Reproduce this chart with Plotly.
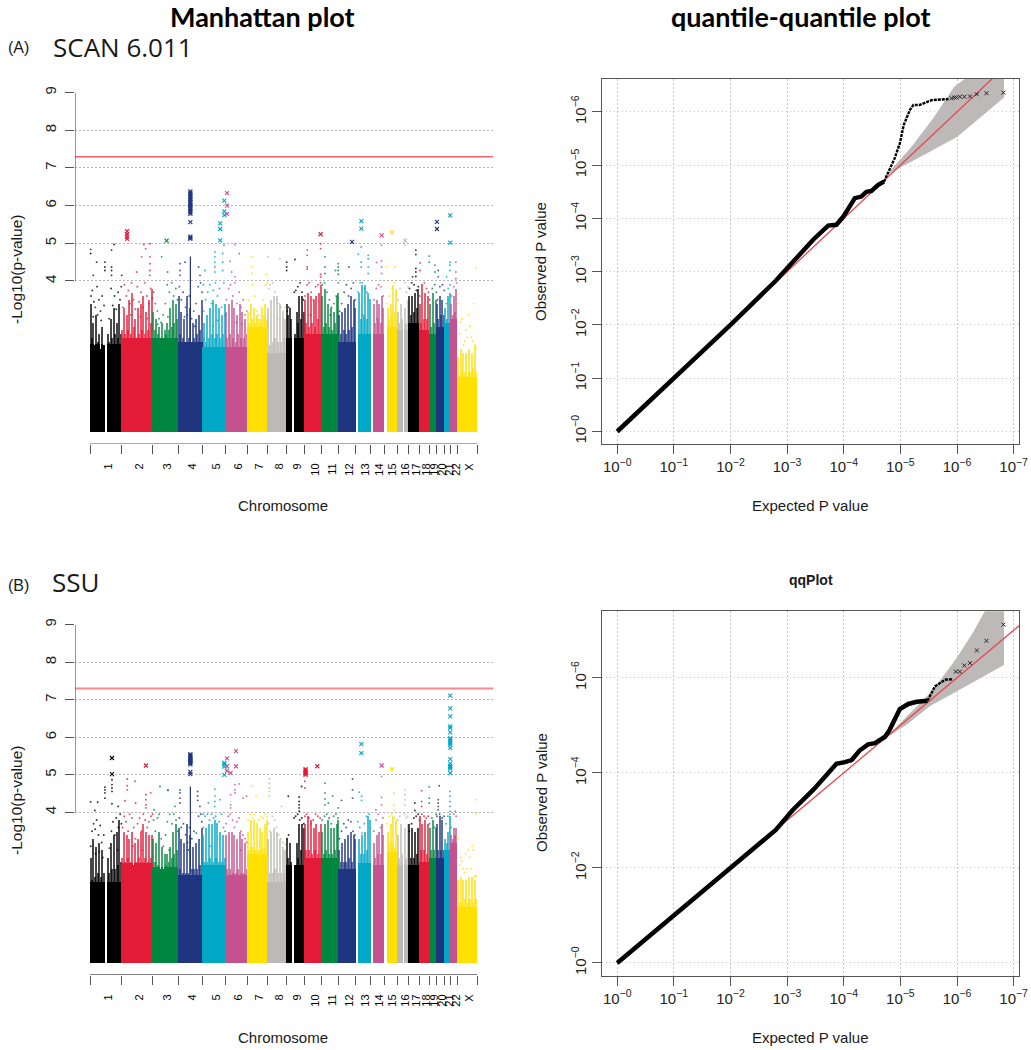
import numpy as np
import plotly.graph_objects as go

# figure size in px, everything else is placed relative to this
W, H = 1031, 1050

chrom_names = [str(i) for i in range(1, 23)] + ["X"]
chrom_mb = [249, 243, 198, 191, 181, 171, 159, 146, 141, 135, 135, 133, 115, 107, 102, 90, 81, 78, 59, 63, 48, 51, 155]
palette = ["#000000", "#e31b37", "#00873f", "#1f357f", "#00a8c6", "#c4528f", "#ffe000", "#bdb9b9"]

# Manhattan plot, panel A: top of the dense column of points in each chromosome window, 0 = no markers there
a_tops = [
    [3.4, 2.5, 2.9, 2.3, 3.1, 2.4, 2.6, 2.2, 2.8, 2.3, 0, 0, 2.6, 2.4, 3.0, 2.5, 3.3, 2.6, 2.9, 2.5, 3.4, 2.6],
    [2.7, 3.3, 2.6, 3.1, 2.7, 3.5, 2.6, 3.7, 2.8, 3.0, 2.5, 3.3, 2.6, 3.4, 2.7, 3.6, 2.6, 3.2, 2.7, 3.5, 2.9, 3.8],
    [3.2, 2.7, 3.0, 2.6, 2.8, 2.5, 2.9, 2.5, 2.7, 2.6, 2.9, 2.7, 3.3, 2.8, 3.5, 2.9, 3.4, 3.0],
    [3.6, 2.6, 3.2, 2.5, 3.0, 2.4, 3.6, 2.5, 3.3, 2.4, 2.9, 2.5, 3.0, 2.6, 3.1, 2.7, 3.5],
    [2.5, 2.9, 2.4, 3.1, 2.5, 3.3, 2.6, 3.5, 2.5, 3.4, 2.6, 3.3, 2.5, 3.1, 2.6, 3.4],
    [3.2, 2.5, 3.4, 2.6, 3.5, 2.5, 3.3, 2.4, 3.1, 2.6, 3.4, 2.5, 3.2, 2.5, 3.0, 2.6],
    [3.2, 2.9, 3.4, 3.0, 3.3, 2.9, 3.1, 3.0, 3.0, 2.9, 3.3, 3.1, 3.4, 3.0],
    [3.3, 2.3, 3.5, 2.4, 3.6, 2.5, 3.6, 2.4, 3.4, 2.4, 3.2, 2.5, 3.0],
    [3.4, 3.1, 3.3, 3.0, 0, 0, 2.6, 3.2, 2.9, 3.6, 3.0, 3.6, 3.2],
    [3.5, 2.9, 3.7, 2.8, 3.6, 2.9, 3.5, 2.8, 3.6, 3.0, 3.7, 3.9],
    [3.6, 2.8, 3.8, 2.9, 3.4, 2.8, 3.3, 2.7, 3.2, 2.9, 3.6, 3.7],
    [3.1, 2.6, 3.2, 2.7, 3.3, 2.6, 3.4, 2.7, 3.6, 2.8, 3.5, 3.3],
    [0, 0, 3.7, 3.0, 3.9, 3.1, 3.9, 3.0, 3.7, 3.5],
    [0, 0, 3.4, 2.9, 3.5, 3.0, 3.4, 2.9, 3.6, 3.3],
    [0, 0, 3.3, 3.0, 3.4, 3.1, 3.9, 3.2, 3.8],
    [3.2, 2.9, 3.4, 3.0, 0, 3.3, 2.9, 3.5],
    [3.6, 3.1, 3.6, 3.2, 3.7, 3.3, 3.8],
    [3.4, 2.9, 3.9, 3.0, 3.7, 3.0, 3.6],
    [3.4, 2.8, 3.7, 2.9, 3.5],
    [3.4, 3.0, 3.6, 3.1, 3.5, 3.1],
    [3.3, 3.0, 3.6, 3.7],
    [3.4, 3.1, 3.6, 3.2, 3.8],
    [2.0, 1.5, 2.2, 1.6, 2.1, 1.6, 2.1, 1.5, 2.2, 1.6, 2.1, 1.7, 2.3, 1.6],
]
# level up to which the points merge into a solid block
a_solid = [2.35, 2.5, 2.5, 2.4, 2.25, 2.25, 2.8, 2.1, 2.5, 2.6, 2.6, 2.4, 2.6, 2.6, 2.8, 2.7, 2.9, 2.7, 2.6, 2.8, 2.9, 3.0, 1.45]

# panel A, the points that stick out above the rest
a_dot_pos = [5, 5, 26, 52, 117, 117, 117, 169, 169, 169, 169, 188, 248, 365, 404, 422, 436, 469, 469, 469, 469, 469,
             561, 608, 704, 704, 704, 744, 851, 861, 900, 978, 978, 978, 978, 978, 1039, 1039, 1039, 1049,
             1096, 1109, 1135, 1135, 1169, 1271, 1271, 1271, 1383, 1396, 1487, 1540, 1540, 1540, 1605,
             1701, 1701, 1701, 1701, 1806, 1806, 1806, 1806, 1840, 1840, 1840, 1923, 1944, 1944, 1944, 1944,
             2028, 2101, 2124, 2124, 2124, 2179, 2179, 2179, 2179, 2244, 2283, 2283, 2283, 2283, 2323, 2388, 2466,
             2526, 2552, 2552, 2552, 2552, 2552, 2584, 2584, 2657, 2657, 2701, 2701, 2727, 2727,
             2792, 2819, 2819, 2819, 2865, 2865, 2865, 3022,
             # below the 4 line
             8, 18, 30, 42, 55, 70, 82, 95, 110, 150, 165, 178, 192, 205, 220, 235, 245, 60, 25, 88,
             258, 270, 285, 300, 312, 325, 340, 355, 370, 385, 400, 415, 430, 445, 460, 475, 488, 320, 395, 450,
             498, 512, 528, 540, 556, 572, 590, 605, 622, 640, 655, 672, 685, 610, 530,
             888, 700, 715, 730, 748, 762, 778, 796, 812, 830, 848, 866, 878, 740, 820,
             890, 905, 922, 938, 950, 966, 982, 998, 1014, 1030, 1048, 1056, 1000, 960,
             1068, 1085, 1100, 1118, 1135, 1150, 1168, 1184, 1200, 1215, 1228, 1145, 1190,
             1240, 1258, 1275, 1290, 1306, 1322, 1340, 1358, 1375, 1388, 1300,
             1398, 1412, 1430, 1448, 1462, 1480, 1496, 1512, 1530, 1470,
             1545, 1556, 1600, 1612, 1628, 1645, 1660, 1672,
             1685, 1700, 1716, 1732, 1750, 1768, 1785, 1805, 1725,
             1820, 1838, 1856, 1874, 1892, 1910, 1928, 1944, 1880,
             1955, 1972, 1990, 2008, 2025, 2045, 2062, 2076,
             2100, 2115, 2132, 2150, 2168, 2188, 2130,
             2225, 2242, 2260, 2278, 2296, 2250,
             2325, 2345, 2365, 2385, 2400,
             2412, 2428, 2466, 2478, 2490,
             2502, 2520, 2538, 2556, 2572,
             2582, 2600, 2618, 2636, 2650,
             2660, 2680, 2700, 2712,
             2720, 2740, 2760, 2774,
             2790, 2805, 2820,
             2830, 2850, 2870,
             2885, 2905, 2925, 2945, 2965, 2985, 3005, 3025, 2895, 2935, 2975, 3015, 2915, 2955, 2995]
a_dot_val = [4.84, 4.73, 4.15, 4.5, 4.5, 4.37, 4.28, 4.82, 4.37, 4.28, 4.15, 4.97, 4.15, 4.24, 4.64, 4.97, 4.86, 4.99, 4.64, 4.46, 4.28, 4.15,
             4.64, 4.24, 4.46, 4.28, 4.15, 4.5, 4.37, 4.15, 4.28, 4.77, 4.64, 4.5, 4.37, 4.24, 4.73, 4.5, 4.28, 4.95,
             4.52, 4.24, 4.97, 4.11, 4.73, 4.64, 4.37, 4.2, 4.18, 4.64, 4.59, 4.5, 4.37, 4.28, 4.57,
             4.82, 4.68, 4.37, 4.31, 4.99, 4.86, 4.18, 4.11, 4.64, 4.37, 4.2, 4.28, 4.46, 4.37, 4.28, 4.18,
             4.37, 4.71, 4.9, 4.5, 4.37, 4.68, 4.59, 4.37, 4.2, 4.49, 4.95, 4.53, 4.37, 4.2, 4.37, 4.37, 4.95,
             4.11, 4.82, 4.7, 4.33, 4.24, 4.12, 4.48, 4.28, 4.66, 4.5, 4.42, 4.24, 4.28, 4.11,
             4.11, 4.5, 4.42, 4.28, 4.5, 4.24, 4.06, 4.35,
             3.6, 3.75, 3.45, 3.3, 3.85, 3.5, 3.2, 3.6, 3.35, 3.0, 3.8, 3.35, 3.6, 3.25, 3.7, 3.5, 3.85, 3.1, 3.05, 2.95,
             3.3, 3.9, 3.6, 3.75, 3.4, 3.95, 3.5, 3.25, 3.85, 3.45, 3.7, 3.3, 3.95, 3.6, 3.4, 3.8, 3.55, 3.1, 3.05, 3.0,
             3.7, 3.4, 3.2, 3.0, 2.9, 3.1, 3.4, 3.9, 3.7, 3.95, 3.6, 3.8, 3.5, 3.05, 2.85,
             3.9, 3.85, 3.5, 3.7, 3.3, 3.1, 3.6, 3.0, 3.2, 3.4, 3.85, 3.95, 3.7, 3.05, 2.8,
             3.2, 3.5, 3.7, 3.9, 3.4, 3.75, 3.95, 3.6, 3.8, 3.3, 3.95, 3.1, 2.95, 2.8,
             3.5, 3.8, 3.9, 3.6, 3.95, 3.4, 3.7, 3.3, 3.5, 3.1, 3.2, 2.9, 2.85,
             3.5, 3.3, 3.9, 3.6, 3.2, 3.1, 3.3, 3.5, 3.9, 3.95, 3.0,
             3.8, 3.9, 3.95, 3.7, 3.5, 3.4, 3.3, 3.2, 3.3, 3.0,
             3.2, 3.3, 3.7, 3.75, 3.85, 3.95, 3.7, 3.5,
             3.6, 3.9, 3.95, 3.7, 3.5, 3.85, 3.9, 3.95, 3.1,
             3.9, 3.95, 3.7, 3.5, 3.3, 3.4, 3.6, 3.95, 3.1,
             3.2, 3.4, 3.7, 3.9, 3.6, 3.8, 3.95, 3.5,
             3.7, 3.95, 3.95, 3.8, 3.7, 3.5, 3.1,
             3.5, 3.8, 3.9, 3.85, 3.6, 3.0,
             3.4, 3.6, 3.8, 3.95, 3.7,
             3.5, 3.8, 3.95, 3.7, 3.85,
             3.8, 3.95, 3.9, 3.75, 3.85,
             3.6, 3.9, 3.95, 3.8, 3.7,
             3.5, 3.8, 3.9, 3.7,
             3.5, 3.85, 3.9, 3.75,
             3.4, 3.8, 3.9,
             3.6, 3.85, 3.95,
             3.4, 2.9, 2.3, 2.7, 3.1, 2.5, 3.4, 2.2, 2.6, 2.4, 2.8, 2.3, 3.0, 2.5, 2.4]

# panel A, hits above 5 drawn as crosses
a_hit_pos = [290, 290, 290, 290, 600,
             786, 786, 786, 786, 786, 786, 786, 786, 786, 786, 786, 786, 786, 786, 786, 786, 786, 786, 786, 786,
             1020, 1020, 1020, 1052, 1052, 1052, 1073, 1073, 1073,
             1806, 2052, 2125, 2125, 2284, 2365, 2467, 2717, 2717, 2821, 2821]
a_hit_val = [5.32, 5.24, 5.18, 5.12, 5.07,
             6.38, 6.34, 6.30, 6.26, 6.22, 6.18, 6.14, 6.10, 6.06, 6.02, 5.98, 5.94, 5.9, 5.86, 5.82, 5.78, 5.56, 5.18, 5.15, 5.12,
             5.53, 5.38, 5.08, 6.13, 5.85, 5.75, 6.33, 6.0, 5.78,
             5.24, 5.04, 5.59, 5.39, 5.21, 5.29, 5.07, 5.57, 5.38, 5.74, 5.02]
a_peak = [2.4, 4.65]

# Manhattan plot, panel B
b_tops = [
    [2.8, 2.2, 3.3, 2.3, 3.1, 2.4, 3.2, 2.3, 3.0, 2.4, 0, 0, 2.8, 2.4, 3.2, 2.5, 3.4, 2.5, 3.5, 2.6, 3.8, 2.7],
    [2.8, 3.5, 2.7, 3.4, 2.8, 3.3, 2.7, 3.5, 2.6, 3.2, 2.7, 3.3, 2.8, 3.5, 2.7, 3.7, 2.8, 3.5, 2.7, 3.4, 2.8, 3.4],
    [3.3, 2.7, 3.2, 2.6, 3.5, 2.5, 3.1, 2.5, 2.9, 2.6, 2.9, 2.7, 3.1, 2.8, 3.5, 2.9, 3.7, 3.0],
    [3.6, 2.5, 3.3, 2.4, 3.2, 2.4, 3.7, 2.4, 3.4, 2.5, 3.1, 2.5, 3.2, 2.5, 3.3, 2.6, 3.6],
    [3.4, 2.7, 3.6, 2.7, 3.7, 2.8, 3.7, 2.7, 3.8, 2.8, 3.7, 2.7, 3.5, 2.7, 3.4, 2.8],
    [3.4, 2.5, 3.5, 2.5, 3.5, 2.4, 3.4, 2.4, 3.3, 2.5, 3.5, 2.4, 3.3, 2.4, 3.2, 2.5],
    [3.5, 3.0, 3.8, 3.1, 3.8, 3.0, 3.7, 3.0, 3.6, 3.0, 3.5, 3.1, 3.7, 3.8],
    [3.3, 2.4, 3.5, 2.4, 3.6, 2.5, 3.5, 2.4, 3.3, 2.4, 3.1, 2.4, 3.0],
    [3.3, 2.8, 3.2, 2.7, 0, 0, 2.6, 3.2, 2.8, 3.7, 3.0, 3.7, 3.6],
    [3.7, 3.0, 3.9, 3.0, 3.8, 2.9, 3.6, 3.0, 3.7, 2.9, 3.5, 3.7],
    [3.5, 2.9, 3.7, 3.0, 3.8, 2.9, 3.6, 2.9, 3.6, 3.0, 3.7, 3.8],
    [3.0, 2.7, 3.2, 2.7, 3.3, 2.7, 3.4, 2.8, 3.5, 2.7, 3.4, 3.3],
    [0, 0, 3.3, 2.9, 3.4, 2.9, 3.5, 3.0, 3.9, 3.8],
    [0, 0, 3.2, 2.8, 3.4, 2.9, 3.5, 2.9, 3.7, 3.4],
    [0, 0, 3.5, 3.2, 3.7, 3.2, 3.9, 3.1, 3.8],
    [3.4, 2.8, 3.7, 2.9, 0, 3.6, 2.8, 3.7],
    [3.7, 2.8, 3.6, 2.8, 3.5, 2.9, 3.6],
    [3.9, 3.0, 3.7, 3.0, 3.8, 2.9, 3.7],
    [3.6, 3.0, 3.8, 3.0, 3.6],
    [3.7, 3.0, 3.9, 3.0, 3.8, 3.0],
    [3.3, 3.2, 3.5, 3.9],
    [3.4, 3.3, 3.6, 3.4, 3.6],
    [2.2, 1.6, 2.3, 1.6, 2.2, 1.7, 2.2, 1.6, 2.3, 1.7, 2.3, 1.6, 2.2, 1.7],
]
b_solid = [2.15, 2.65, 2.55, 2.35, 2.6, 2.35, 2.9, 2.15, 2.6, 2.8, 2.8, 2.5, 2.65, 2.6, 2.95, 2.6, 2.6, 2.7, 2.8, 2.8, 3.0, 3.2, 1.5]
b_dot_pos = [5, 60, 38, 117, 117, 117, 117, 172, 172, 172, 172, 172, 221, 292, 292, 292, 352, 357, 274,
             438, 438, 438, 438, 475, 548, 608, 612, 665, 501,
             704, 704, 704, 704, 843, 843, 843, 861,
             978, 978, 978, 978, 927, 1018, 1101, 1101, 1101, 1135, 1135, 1135, 1169, 1200, 1226,
             1266, 1300, 1404, 1404, 1404, 1404, 1404, 1500, 1553,
             1638, 1638, 1638, 1638, 1638, 1657, 1683, 1683,
             1840, 1840, 1840, 1840, 1900, 1866, 1944, 2056, 2056, 2056, 1970,
             2108, 2127, 2127, 2239, 2283, 2283, 2283, 2380, 2380, 2380,
             2466, 2466, 2466, 2466, 2544, 2544, 2597, 2597, 2597, 2657, 2657, 2657, 2735, 2727, 2727, 2727, 2727,
             2819, 2819, 2819, 2819, 2819, 2860, 3022,
             # below the 4 line
             6, 16, 28, 40, 52, 66, 80, 92, 108, 152, 168, 180, 194, 206, 222, 236, 246, 44, 72, 100, 215,
             255, 268, 282, 298, 310, 328, 342, 356, 372, 388, 402, 418, 432, 448, 462, 478, 490, 335, 410,
             498, 512, 528, 542, 558, 574, 592, 606, 624, 642, 656, 674, 686, 620,
             886, 700, 714, 732, 750, 764, 780, 798, 814, 832, 850, 868, 876, 770,
             888, 902, 920, 936, 952, 968, 984, 996, 1012, 1030, 1046, 1058, 940,
             1066, 1082, 1098, 1116, 1132, 1150, 1166, 1182, 1198, 1214, 1226, 1180,
             1238, 1254, 1272, 1288, 1304, 1320, 1338, 1356, 1372, 1386,
             1396, 1410, 1428, 1446, 1460, 1478, 1494, 1510, 1528,
             1543, 1555, 1598, 1610, 1626, 1643, 1658, 1674,
             1683, 1696, 1714, 1730, 1748, 1766, 1784, 1802,
             1818, 1836, 1854, 1872, 1890, 1908, 1926, 1942,
             1953, 1970, 1988, 2006, 2023, 2043, 2060, 2074,
             2098, 2113, 2130, 2148, 2166, 2186,
             2223, 2240, 2258, 2276, 2294,
             2323, 2343, 2363, 2383, 2398,
             2410, 2426, 2464, 2476, 2488,
             2500, 2518, 2536, 2554, 2570,
             2580, 2598, 2616, 2634, 2648,
             2658, 2678, 2698, 2710,
             2718, 2738, 2758, 2772,
             2788, 2803, 2818,
             2828, 2848, 2868,
             2883, 2903, 2923, 2943, 2963, 2983, 3003, 3023, 2893, 2933, 2973, 3013, 2913, 2953, 2993, 3020]
b_dot_val = [4.28, 4.27, 4.05, 4.67, 4.6, 4.52, 4.38, 4.87, 4.74, 4.65, 4.56, 4.23, 4.16, 4.89, 4.71, 4.6, 4.83, 4.25, 4.31,
             4.47, 4.34, 4.2, 4.12, 4.52, 4.69, 4.6, 4.59, 4.16, 4.07,
             4.6, 4.52, 4.38, 4.25, 4.56, 4.44, 4.32, 4.16,
             4.62, 4.44, 4.29, 4.16, 4.25, 4.34, 4.47, 4.2, 4.12, 4.74, 4.6, 4.52, 4.76, 4.38, 4.43,
             4.71, 4.43, 4.89, 4.78, 4.65, 4.56, 4.44, 4.16, 4.43,
             4.41, 4.29, 4.2, 4.12, 4.03, 4.69, 4.83, 4.65,
             4.78, 4.52, 4.36, 4.2, 4.44, 4.25, 4.12, 4.89, 4.6, 4.38, 4.32,
             4.54, 4.43, 4.32, 4.07, 4.96, 4.4, 4.2, 4.52, 4.2, 4.07,
             4.6, 4.47, 4.34, 4.2, 4.25, 4.05, 4.58, 4.29, 4.16, 4.68, 4.38, 4.25, 4.71, 4.34, 4.25, 4.16, 4.07,
             4.56, 4.43, 4.29, 4.16, 4.03, 4.03, 4.34,
             3.1, 3.5, 3.7, 3.55, 3.8, 3.4, 3.65, 3.2, 3.4, 3.05, 3.5, 3.75, 3.4, 3.85, 3.6, 3.95, 3.7, 2.9, 2.95, 2.8, 3.0,
             3.6, 3.9, 3.75, 3.5, 3.95, 3.85, 3.6, 3.3, 3.7, 3.85, 3.5, 3.95, 3.8, 3.6, 3.75, 3.9, 3.95, 3.1, 3.0,
             3.8, 3.5, 3.85, 3.95, 3.3, 3.1, 3.4, 3.75, 3.95, 3.7, 3.95, 3.8, 3.5, 3.0,
             3.95, 3.85, 3.6, 3.7, 3.4, 3.2, 3.6, 3.3, 3.5, 3.45, 3.9, 3.95, 3.75, 3.0,
             3.6, 3.9, 3.95, 3.8, 3.95, 3.85, 3.9, 3.7, 3.75, 3.95, 3.6, 3.5, 3.1,
             3.7, 3.9, 3.95, 3.8, 3.6, 3.75, 3.85, 3.5, 3.4, 3.3, 3.2, 3.0,
             3.8, 3.95, 3.85, 3.95, 3.7, 3.8, 3.9, 3.85, 3.95, 3.9,
             3.7, 3.5, 3.9, 3.8, 3.6, 3.4, 3.3, 3.2, 3.15,
             3.3, 3.4, 3.85, 3.9, 3.95, 3.8, 3.85, 3.7,
             3.9, 3.95, 3.85, 3.7, 3.8, 3.95, 3.9, 3.85,
             3.8, 3.9, 3.95, 3.85, 3.7, 3.9, 3.95, 3.85,
             3.3, 3.5, 3.7, 3.6, 3.8, 3.75, 3.5, 3.4,
             3.75, 3.6, 3.45, 3.7, 3.9, 3.95,
             3.5, 3.8, 3.95, 3.6, 3.85,
             3.7, 3.9, 3.95, 3.85, 3.7,
             3.8, 3.9, 3.95, 3.85, 3.9,
             3.5, 3.7, 3.85, 3.9, 3.95,
             3.8, 3.95, 3.9, 3.85, 3.9,
             3.7, 3.85, 3.6, 3.95,
             3.9, 3.95, 3.85, 3.9,
             3.7, 3.9, 3.95,
             3.6, 3.95, 3.9,
             3.3, 2.8, 2.5, 2.9, 3.0, 2.5, 3.0, 2.3, 2.6, 2.4, 2.8, 2.3, 2.7, 2.5, 3.1, 3.95]
b_hit_pos = [172, 172, 438,
             786, 786, 786, 786, 786, 786, 786, 786, 786, 786, 786, 786,
             1052, 1052, 1052, 1052, 1073, 1073, 1073, 1101, 1143, 1143,
             1688, 1688, 1688, 1688, 1688, 1688, 1780, 2125, 2125, 2284, 2365,
             2821, 2821, 2821, 2821, 2821, 2821, 2821, 2821, 2821, 2821, 2821, 2821, 2821, 2821, 2821, 2821, 2821, 2821]
b_hit_val = [5.45, 5.02, 5.25,
             5.55, 5.52, 5.49, 5.46, 5.43, 5.40, 5.37, 5.34, 5.31, 5.28, 5.08, 5.02,
             5.32, 5.28, 5.22, 5.0, 5.44, 5.23, 5.11, 5.05, 5.63, 5.23,
             5.15, 5.12, 5.09, 5.06, 5.03, 5.0, 5.23, 5.82, 5.58, 5.25, 5.15,
             7.11, 6.77, 6.56, 6.29, 6.25, 6.13, 5.98, 5.94, 5.89, 5.85, 5.8, 5.72, 5.42, 5.3, 5.24, 5.21, 5.17, 5.05]
b_peak = [2.4, 4.69]

genome_line = 7.3

# QQ plots, all in -log10(p): thick ribbon, thinner part, single crosses, confidence band
qq_ref = [0.0, 8.0]
a_thick_exp = [0, 1, 2, 2.8, 3.14, 3.46, 3.725, 3.87, 3.99, 4.196, 4.31, 4.40, 4.49, 4.61, 4.71]
a_thick_obs = [0, 1, 2, 2.83, 3.22, 3.60, 3.865, 3.88, 4.03, 4.38, 4.41, 4.50, 4.515, 4.63, 4.69]
a_thin_exp = [4.71, 4.81, 4.90, 4.99, 5.02, 5.06, 5.17, 5.23, 5.34, 5.55, 5.85]
a_thin_obs = [4.69, 4.94, 5.13, 5.41, 5.55, 5.755, 6.04, 6.13, 6.13, 6.22, 6.24]
a_cross_exp = [5.904, 5.95, 5.99, 6.05, 6.13, 6.23, 6.35, 6.52, 6.82]
a_cross_obs = [6.255, 6.27, 6.27, 6.285, 6.285, 6.29, 6.33, 6.35, 6.36]
a_band_exp = [4.76, 5.2, 5.58, 5.95, 6.14, 6.3, 6.83, 6.83, 6.0, 5.57, 5.2, 4.76]
a_band_obs = [4.82, 5.35, 5.88, 6.47, 6.62, 6.9, 6.9, 6.27, 5.53, 5.29, 5.07, 4.82]

b_thick_exp = [0, 1, 2, 2.8, 3.1, 3.46, 3.70, 3.87, 4.02, 4.14, 4.28, 4.43, 4.55, 4.73, 4.81, 4.90, 4.99, 5.14, 5.29, 5.48]
b_thick_obs = [0, 1, 2, 2.8, 3.22, 3.64, 3.96, 4.19, 4.225, 4.27, 4.47, 4.60, 4.625, 4.76, 4.905, 5.15, 5.34, 5.45, 5.495, 5.52]
b_thin_exp = [5.48, 5.52, 5.61, 5.70, 5.79, 5.93]
b_thin_obs = [5.52, 5.61, 5.82, 5.89, 5.96, 5.97]
b_cross_exp = [5.98, 6.05, 6.13, 6.23, 6.35, 6.52, 6.82]
b_cross_obs = [6.13, 6.13, 6.26, 6.31, 6.575, 6.78, 7.12]
b_band_exp = [4.73, 5.11, 5.58, 5.99, 6.29, 6.49, 6.83, 6.83, 6.46, 5.99, 5.52, 5.11, 4.73]
b_band_obs = [4.73, 5.19, 5.75, 6.41, 6.97, 7.40, 7.6, 6.27, 6.03, 5.71, 5.40, 5.01, 4.73]

qq_decades = [0, 1, 2, 3, 4, 5, 6, 7]
qq_ticktext = ["10<sup>\u2212%d</sup>" % d for d in qq_decades]

chrom_start = np.concatenate([[0], np.cumsum(chrom_mb)[:-1]])
chrom_end = np.cumsum(chrom_mb)
chrom_mid = (chrom_start + chrom_end) / 2
GENOME_END = float(chrom_end[-1])
LABEL_SHIFT = 16  # chromosome labels sit a little right of the middle


def dom_x(left, right):
    return [left / W, right / W]


def dom_y(top, bottom):
    return [1 - bottom / H, 1 - top / H]


def chrom_colors(pos):
    idx = np.searchsorted(chrom_end, np.asarray(pos), side="right")
    idx = np.clip(idx, 0, len(chrom_mb) - 1)
    return [palette[i % len(palette)] for i in idx]


def window_bars(tops, solid=None):
    # chromosome windows -> bar centres, widths, heights, colours
    xs, ws, ys, cs = [], [], [], []
    for i, row in enumerate(tops):
        width = chrom_mb[i] / len(row)
        for j, top in enumerate(row):
            xs.append(chrom_start[i] + (j + 0.5) * width)
            ws.append(width)
            ys.append(top if solid is None else min(top, solid[i]))
            cs.append(palette[i % len(palette)])
    return xs, ws, ys, cs


def add_manhattan(fig, xa, ya, tops, solid, dot_pos, dot_val, hit_pos, hit_val, peak, line_width, line_color):
    ref = dict(xaxis=xa, yaxis=ya, showlegend=False, hoverinfo="skip")
    xs, ws, ys, cs = window_bars(tops)
    fig.add_trace(go.Bar(x=xs, y=ys, width=ws, marker=dict(color=cs, opacity=0.72, line_width=0), **ref))
    xs, ws, ys, cs = window_bars(tops, solid)
    fig.add_trace(go.Bar(x=xs, y=ys, width=ws, marker=dict(color=cs, line_width=0), **ref))
    fig.add_trace(go.Scatter(x=[786, 786], y=peak, mode="lines", line=dict(color=palette[3], width=1.2), **ref))
    fig.add_trace(go.Scatter(x=dot_pos, y=dot_val, mode="markers",
                             marker=dict(color=chrom_colors(dot_pos), size=1.9, opacity=0.8, line_width=0), **ref))
    fig.add_trace(go.Scatter(x=hit_pos, y=hit_val, mode="markers",
                             marker=dict(color=chrom_colors(hit_pos), symbol="x-thin", size=4,
                                         line=dict(width=1.1, color=chrom_colors(hit_pos))), **ref))
    fig.add_trace(go.Scatter(x=[-117.5, 3156], y=[genome_line, genome_line], mode="lines",
                             line=dict(color=line_color, width=line_width), **ref))


def add_qq(fig, xa, ya, band_exp, band_obs, thick_exp, thick_obs, thin_exp, thin_obs, cross_exp, cross_obs):
    ref = dict(xaxis=xa, yaxis=ya, showlegend=False, hoverinfo="skip")
    to_p = lambda v: np.power(10.0, -np.asarray(v, dtype=float))
    fig.add_trace(go.Scatter(x=to_p(band_exp), y=to_p(band_obs), mode="lines", fill="toself",
                             fillcolor="#bdb9b9", line=dict(width=0), **ref))
    fig.add_trace(go.Scatter(x=to_p(qq_ref), y=to_p(qq_ref), mode="lines",
                             line=dict(color="#e8474c", width=1.3), **ref))
    fig.add_trace(go.Scatter(x=to_p(thick_exp), y=to_p(thick_obs), mode="lines",
                             line=dict(color="black", width=4.5), **ref))
    fig.add_trace(go.Scatter(x=to_p(thin_exp), y=to_p(thin_obs), mode="lines",
                             line=dict(color="black", width=2.4, dash="3px,1px"), **ref))
    fig.add_trace(go.Scatter(x=to_p(cross_exp), y=to_p(cross_obs), mode="markers",
                             marker=dict(symbol="x-thin", size=4, line=dict(width=1, color="#222222")), **ref))


fig = go.Figure()
add_manhattan(fig, "x", "y", a_tops, a_solid, a_dot_pos, a_dot_val, a_hit_pos, a_hit_val, a_peak, 1.5, "#f0606a")
add_qq(fig, "x2", "y2", a_band_exp, a_band_obs, a_thick_exp, a_thick_obs, a_thin_exp, a_thin_obs, a_cross_exp, a_cross_obs)
add_manhattan(fig, "x3", "y3", b_tops, b_solid, b_dot_pos, b_dot_val, b_hit_pos, b_hit_val, b_peak, 2, "#f58a8f")
add_qq(fig, "x4", "y4", b_band_exp, b_band_obs, b_thick_exp, b_thick_obs, b_thin_exp, b_thin_obs, b_cross_exp, b_cross_obs)

AXIS_COLOR = "#555555"
DOTS = "1.5px,2.5px"
TICK_FONT = dict(family="Liberation Sans", size=15, color="#222222")

man_x = dict(range=[-117.5, 3156], showgrid=False, zeroline=False, showline=False,
             tickmode="array", tickvals=chrom_mid + LABEL_SHIFT, ticktext=chrom_names, tickangle=-90,
             ticks="outside", ticklen=14, tickcolor="rgba(0,0,0,0)",
             tickfont=dict(family="Liberation Sans", size=11, color="black"),
             minor=dict(tickmode="array", tickvals=list(chrom_start) + [GENOME_END], ticks="outside",
                        ticklen=9, tickcolor=AXIS_COLOR, tickwidth=1, showgrid=False))
man_y = dict(range=[-0.327, 9], zeroline=False, showline=False, tickmode="array", tickvals=[4, 5, 6, 7, 8, 9],
             tickangle=-90, ticks="outside", ticklen=9, tickcolor=AXIS_COLOR, tickfont=TICK_FONT,
             ticklabelstandoff=3, showgrid=True, griddash=DOTS, gridcolor="#b5b5b5", gridwidth=1)
qq_x = dict(type="log", range=[0.274, -7.1], showgrid=True, griddash=DOTS, gridcolor="#c8c8c8", zeroline=False,
            showline=True, mirror=True, linecolor=AXIS_COLOR, linewidth=1.2,
            tickmode="array", tickvals=[10.0 ** -d for d in qq_decades], ticktext=qq_ticktext,
            ticks="outside", ticklen=9, tickcolor=AXIS_COLOR, tickfont=TICK_FONT, tickangle=0)
qq_y = dict(type="log", showgrid=True, griddash=DOTS, gridcolor="#c8c8c8", zeroline=False,
            showline=True, mirror=True, linecolor=AXIS_COLOR, linewidth=1.2, tickmode="array",
            ticks="outside", ticklen=9, tickcolor=AXIS_COLOR, tickfont=TICK_FONT, tickangle=-90)

fig.update_layout(
    width=W, height=H, margin=dict(l=0, r=0, t=0, b=0, pad=0, autoexpand=False),
    paper_bgcolor="white", plot_bgcolor="rgba(0,0,0,0)", barmode="overlay", bargap=0,
    xaxis=dict(man_x, domain=dom_x(75, 493), anchor="y"),
    yaxis=dict(man_y, domain=dom_y(92.6, 444), anchor="x"),
    xaxis3=dict(man_x, domain=dom_x(75, 493), anchor="y3"),
    yaxis3=dict(man_y, domain=dom_y(624.7, 975), anchor="x3", range=[-0.33, 9]),
    xaxis2=dict(qq_x, domain=dom_x(601.7, 1019.3), anchor="y2"),
    yaxis2=dict(qq_y, domain=dom_y(79, 444.3), anchor="x2", range=[0.24, -6.617],
                tickvals=[10.0 ** -d for d in qq_decades[:7]], ticktext=qq_ticktext[:7]),
    xaxis4=dict(qq_x, domain=dom_x(601.7, 1019.3), anchor="y4"),
    yaxis4=dict(qq_y, domain=dom_y(611.3, 975.5), anchor="x4", range=[0.264, -7.4],
                tickvals=[1, 1e-2, 1e-4, 1e-6], ticktext=[qq_ticktext[0], qq_ticktext[2], qq_ticktext[4], qq_ticktext[6]]),
)

# the R-style open axes on the Manhattan plots
for xref, yref in (("x", "y"), ("x3", "y3")):
    fig.add_shape(type="line", xref=xref, yref=yref, x0=-117.5, x1=-117.5, y0=4, y1=9,
                  line=dict(color=AXIS_COLOR, width=1.2))
    fig.add_shape(type="line", xref=xref, yref=yref, x0=0, x1=GENOME_END, y0=-0.327, y1=-0.327,
                  line=dict(color=AXIS_COLOR, width=1.2))


def label(text, px, py, size, anchor="center", family="Liberation Sans", bold=False, angle=0, color="#1a1a1a"):
    fig.add_annotation(text="<b>%s</b>" % text if bold else text, xref="paper", yref="paper",
                       x=px / W, y=1 - py / H, xanchor=anchor, yanchor="middle", showarrow=False,
                       textangle=angle, font=dict(family=family, size=size, color=color))


label("Manhattan plot", 262, 16, 27, family="Lato", bold=True, color="black")
label("quantile-quantile plot", 801, 16, 27, family="Lato", bold=True, color="black")
label("(A)", 6, 48, 16, anchor="left")
label("SCAN 6.011", 51, 47, 26, anchor="left", family="Open Sans")
label("(B)", 6, 585, 16, anchor="left")
label("SSU", 50, 582, 26, anchor="left", family="Open Sans")
label("qqPlot", 811, 580, 14, bold=True)
for offset in (0, 531):
    label("Chromosome", 283, 506 + offset, 15)
    label("-Log10(p-value)", 16, 270 + offset, 15.5, angle=-90)
    label("Expected P value", 810, 506 + offset, 15)
    label("Observed P value", 541, 262 + offset, 15, angle=-90)

fig.write_html("out.html", config={"displayModeBar": False},
               post_script="document.body.style.margin='0';document.body.style.overflow='hidden';")
